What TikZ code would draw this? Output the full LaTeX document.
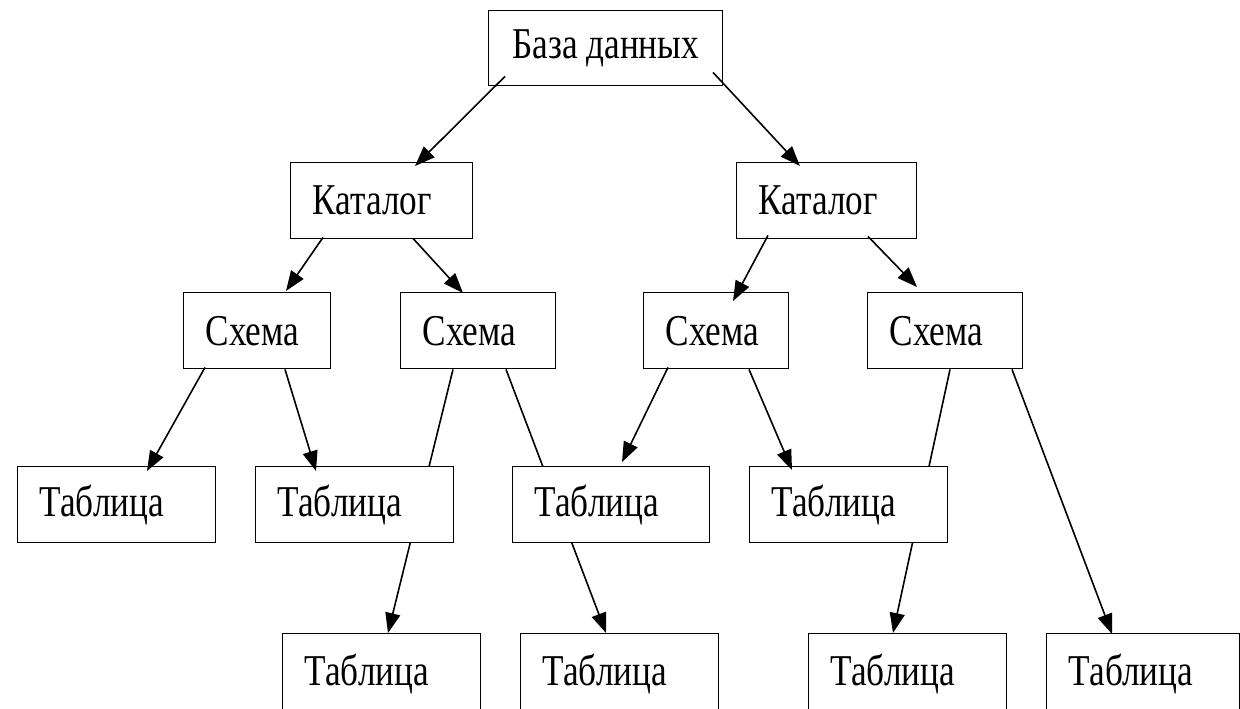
\documentclass[tikz,border=0pt]{standalone}
\usepackage{fontspec}
\setmainfont{Liberation Serif}[FakeStretch=0.8]
\usetikzlibrary{arrows.meta,calc}
\begin{document}
\begin{tikzpicture}[x=1pt,y=-1pt,
  box/.style={draw, fill=white, line width=1.4pt, anchor=north west,
    inner xsep=22pt, inner ysep=0pt, align=left, minimum height=76pt,
    font=\fontsize{44}{50}\selectfont},
  conn/.style={line width=1.6pt, -{Triangle[length=20pt,width=15pt]}}]
\useasboundingbox (0,0) rectangle (1240,709);
\clip (0,0) rectangle (1240,709);
% top levels
\node[box, inner xsep=0pt, minimum width=234pt, minimum height=75pt] (db) at (488,10) {База данных};
\node[box, text width=138pt] (katL) at (290,162) {Каталог};
\node[box, text width=136pt] (katR) at (736,162) {Каталог};
\node[box, text width=103pt] (s1) at (183,292) {Схема};
\node[box, text width=111pt] (s2) at (400,292) {Схема};
\node[box, text width=101pt] (s3) at (643,292) {Схема};
\node[box, text width=111pt] (s4) at (867,292) {Схема};
% bottom level
\node[box, text width=154pt, minimum height=80pt] (b1) at (282,633) {Таблица};
\node[box, text width=154pt, minimum height=80pt] (b2) at (520,633) {Таблица};
\node[box, text width=154pt, minimum height=80pt] (b3) at (808,633) {Таблица};
\node[box, text width=149pt, minimum height=80pt] (b4) at (1046,633) {Таблица};
% connectors passing behind the third level
\draw[conn] ($(s2.south west)+(53,0)$) -- ($(b1.north west)+(106,0)$);
\draw[conn] ($(s2.south west)+(106,0)$) -- ($(b2.north west)+(86,0)$);
\draw[conn] ($(s4.south west)+(83,0)$) -- ($(b3.north west)+(85,0)$);
% third level
\node[box, text width=154pt] (t1) at (17,466) {Таблица};
\node[box, text width=154pt] (t2) at (255,466) {Таблица};
\node[box, text width=153pt] (t3) at (512,466) {Таблица};
\node[box, text width=154pt] (t4) at (749,466) {Таблица};
% remaining connectors
\draw[conn] ($(db.south west)+(17,-10)$) -- ($(katL.north west)+(125,4)$);
\draw[conn] ($(db.south west)+(225,-14)$) -- ($(katR.north west)+(64,4)$);
\draw[conn] ($(katL.south west)+(33,-2)$) -- ($(s1.north west)+(103,-1)$);
\draw[conn] ($(katL.south west)+(123,-1)$) -- ($(s2.north west)+(63,1)$);
\draw[conn] ($(katR.south west)+(32,-4)$) -- ($(s3.north west)+(90,9)$);
\draw[conn] ($(katR.south west)+(132,-3)$) -- ($(s4.north west)+(50,-5)$);
\draw[conn] ($(s1.south west)+(22,-2)$) -- ($(t1.north west)+(130,5)$);
\draw[conn] ($(s1.south west)+(102,0)$) -- ($(t2.north west)+(61,5)$);
\draw[conn] ($(s3.south west)+(25,-2)$) -- ($(t3.north west)+(110,-4)$);
\draw[conn] ($(s3.south west)+(106,0)$) -- ($(t4.north west)+(43,4)$);
\draw[conn] ($(s4.south west)+(145,0)$) -- ($(b4.north west)+(66,1)$);
\end{tikzpicture}
\end{document}
